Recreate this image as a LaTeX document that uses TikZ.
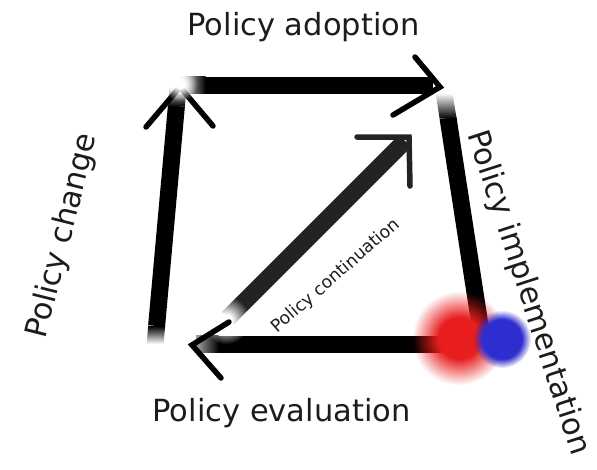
\documentclass[tikz,border=0pt]{standalone}
\usepackage{fontspec}
\setmainfont{DejaVu Sans}
\usetikzlibrary{fadings}
\pgfdeclareradialshading{blobshade}{\pgfpointorigin}{color(0bp)=(white); color(11bp)=(white); color(25bp)=(black); color(50bp)=(black)}
\pgfdeclarefading{blob}{\pgfuseshading{blobshade}}
\pgfdeclareradialshading{dotshade}{\pgfpointorigin}{color(0bp)=(white); color(17bp)=(white); color(25bp)=(black); color(50bp)=(black)}
\pgfdeclarefading{dot}{\pgfuseshading{dotshade}}
\pgfdeclareradialshading{glowshade}{\pgfpointorigin}{color(0bp)=(white); color(6bp)=(white); color(25bp)=(black); color(50bp)=(black)}
\pgfdeclarefading{glow}{\pgfuseshading{glowshade}}
\definecolor{blobred}{RGB}{232,30,30}
\definecolor{blobblue}{RGB}{46,46,208}
\definecolor{diag}{RGB}{35,35,35}
\definecolor{txt}{RGB}{28,28,28}
\tikzset{
  mainline/.style={line width=17pt, black},
  diagline/.style={line width=17pt, diag},
  chev/.style={line width=5.5pt, line cap=round, line join=miter, black},
  bigtext/.style={font=\fontsize{30.5}{36}\selectfont, text=txt, inner sep=0pt},
  smalltext/.style={font=\fontsize{17.3}{20}\selectfont, text=txt, inner sep=0pt},
}
\begin{document}
\begin{tikzpicture}[x=1pt,y=-1pt]
\useasboundingbox (0,0) rectangle (597,469);
% corner coordinates
\coordinate (LB) at (155.2,342);
\coordinate (LBs) at (156.6,326);
\coordinate (LTs) at (176.4,106);
\coordinate (LT) at (178,88);
\coordinate (TLs) at (205,85);
\coordinate (TL) at (178,85);
\coordinate (TR) at (433,85);
\coordinate (RT) at (444,93);
\coordinate (RTs) at (448,118);
\coordinate (RB) at (482,338);
\coordinate (BR) at (470,344);
\coordinate (BLs) at (218,344);
\coordinate (BL) at (196,344);
\coordinate (DA) at (228,318);
\coordinate (DB) at (405,141);
% left line (Policy change)
\draw[mainline] (LBs) -- (LTs);
\shade[top color=black, bottom color=white] (148.1,326) -- (165.1,326) -- (163.7,344) -- (146.7,344) -- cycle;
\shade[top color=white, bottom color=black] (169.6,86) -- (186.6,86) -- (184.9,106.5) -- (167.9,106.5) -- cycle;
% top line (Policy adoption)
\draw[mainline] (TLs) -- (TR);
\shade[left color=white, right color=black] (178,76.5) rectangle (205.5,93.5);
% right line (Policy implementation)
\draw[mainline] (RTs) -- (RB);
\shade[top color=white, bottom color=black] (435.5,93) -- (452.5,93) -- (456.6,118.5) -- (439.6,118.5) -- cycle;
% bottom line (Policy evaluation)
\draw[mainline] (BLs) -- (BR);
\shade[left color=black!35, right color=black] (196,335.5) rectangle (218.5,352.5);
% diagonal (Policy continuation)
\draw[diagline] (DA) -- (DB);
% arrowheads
\coordinate (c1) at (146,127); \coordinate (v1) at (180,87); \coordinate (c2) at (213,126);
\draw[chev] (c1) -- (v1) -- (c2);
\coordinate (c3) at (415,57); \coordinate (v2) at (440,87); \coordinate (c4) at (393,115);
\draw[chev] (c3) -- (v2) -- (c4);
\coordinate (c5) at (357,137); \coordinate (v3) at (409,137); \coordinate (c6) at (410,186);
\draw[chev, diag] (c5) -- (v3) -- (c6);
% glows
\fill[white, path fading=glow] (180,84) circle (17);
\fill[white, path fading=glow] (226,320) circle (24);
\coordinate (c7) at (229,322); \coordinate (v4) at (192,345); \coordinate (c8) at (221,378);
\draw[chev] (c7) -- (v4) -- (c8);
% blobs
\fill[blobred, path fading=blob] (459,338) circle (47);
\fill[blobblue, path fading=dot] (502,339) circle (29);
% texts
\node[bigtext, anchor=base] (adopt) at (303.5,35) {Policy adoption};
\node[bigtext, anchor=base] (eval) at (281.5,421) {Policy evaluation};
\node[bigtext, rotate=76] (change) at (63,236) {Policy change};
\node[bigtext, rotate=-72] (impl) at (528,293) {Policy implementation};
\node[smalltext, rotate=41] (cont) at (336,276) {Policy continuation};
\end{tikzpicture}
\end{document}
